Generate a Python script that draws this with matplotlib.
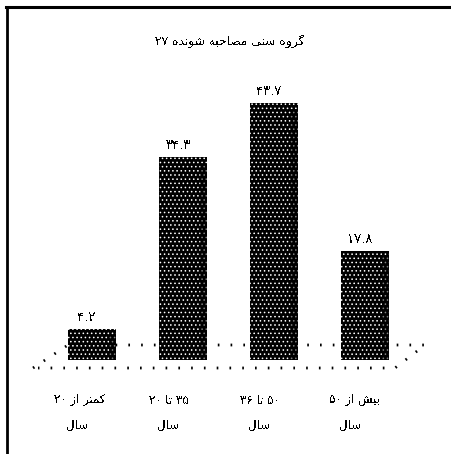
import numpy as np
import matplotlib
matplotlib.use("Agg")
import matplotlib.pyplot as plt
from matplotlib.lines import Line2D

title_text = "گروه سنی مصاحبه شونده ۲۷"
categories = [["کمتر از ۲۰", "سال"], ["۳۵ تا ۲۰", "سال"], ["۵۰ تا ۳۶", "سال"], ["بیش از ۵۰", "سال"]]
values = [4.2, 34.3, 43.7, 17.8]
value_labels = ["۴.۲", "۳۴.۳", "۴۳.۷", "۱۷.۸"]

# isolated, final, initial, medial
forms = {
    "گ": "\uFB92\uFB93\uFB94\uFB95", "ک": "\uFB8E\uFB8F\uFB90\uFB91",
    "ه": "\uFEE9\uFEEA\uFEEB\uFEEC", "س": "\uFEB1\uFEB2\uFEB3\uFEB4",
    "ن": "\uFEE5\uFEE6\uFEE7\uFEE8", "ی": "\uFBFC\uFBFD\uFBFE\uFBFF",
    "م": "\uFEE1\uFEE2\uFEE3\uFEE4", "ص": "\uFEB9\uFEBA\uFEBB\uFEBC",
    "ح": "\uFEA1\uFEA2\uFEA3\uFEA4", "ب": "\uFE8F\uFE90\uFE91\uFE92",
    "ش": "\uFEB5\uFEB6\uFEB7\uFEB8", "ت": "\uFE95\uFE96\uFE97\uFE98",
    "ل": "\uFEDD\uFEDE\uFEDF\uFEE0",
    "ر": "\uFEAD\uFEAE", "و": "\uFEED\uFEEE", "ا": "\uFE8D\uFE8E",
    "د": "\uFEA9\uFEAA", "ز": "\uFEAF\uFEB0",
}


def shape(text):
    # matplotlib does not join arabic letters, so do it by hand
    words = []
    for word in text.split(" "):
        if word[0] not in forms:
            words.append(word)
            continue
        out = ""
        for i, ch in enumerate(word):
            prev_joins = i > 0 and len(forms[word[i - 1]]) == 4
            next_joins = i < len(word) - 1 and len(forms[ch]) == 4
            if prev_joins and next_joins:
                out += forms[ch][3]
            elif prev_joins:
                out += forms[ch][1]
            elif next_joins:
                out += forms[ch][2]
            else:
                out += forms[ch][0]
        words.append(out[::-1])
    return " ".join(words[::-1])


W, H = 451, 454
px_per_unit = 5.72
base_px = 353
first_px = 92
step_px = 91
depth = 7 / px_per_unit

plt.rcParams["font.family"] = "DejaVu Sans"
plt.rcParams["text.antialiased"] = False
plt.rcParams["hatch.linewidth"] = 0.6

fig = plt.figure(figsize=(W / 100, H / 100), dpi=100)
ax = fig.add_axes([0, 0, 1, 1])
ax.set_xlim(-first_px / step_px, (W - first_px) / step_px)
ax.set_ylim(-(H - base_px) / px_per_unit, base_px / px_per_unit)
ax.axis("off")

# frame, only top and left are visible in the picture
fig.add_artist(Line2D([7 / W, 7 / W], [0, 1 - 6.5 / H], color="black", lw=2))
fig.add_artist(Line2D([6 / W, 1], [1 - 6.5 / H, 1 - 6.5 / H], color="black", lw=2.2))

# dotted floor
floor_x = np.array([33, 68, 425, 395, 38]) / W
floor_y = 1 - np.array([368, 345, 345, 368, 368]) / H
fig.add_artist(Line2D(floor_x, floor_y, color="black", lw=2.0, ls=(0, (0.6, 4.0)), zorder=0))

x = np.arange(len(values))
heights = np.array(values) + depth
ax.bar(x, heights, width=48 / step_px, bottom=-depth, color="black", edgecolor="white",
       hatch="....", linewidth=0, zorder=3)
# darker right side of the bars
ax.bar(x + 20.5 / step_px, heights - 6 / px_per_unit, width=7 / step_px, bottom=-depth, color="black",
       alpha=0.5, linewidth=0, zorder=4)

for i, v in enumerate(values):
    ax.text(i - 5 / step_px, v + 5 / px_per_unit, shape(value_labels[i]), ha="center", va="bottom",
            fontsize=9.5)

label_x = [-12, -14, -14, -10]
for i, lines in enumerate(categories):
    ax.text(i + label_x[i] / step_px, -(400 - base_px) / px_per_unit, shape(lines[0]), ha="center",
            va="center", fontsize=8.5)
    ax.text(i - 15 / step_px, -(425 - base_px) / px_per_unit, shape(lines[1]), ha="center",
            va="center", fontsize=8.5)

fig.text(230 / W, 1 - 41 / H, shape(title_text), ha="center", va="center", fontsize=8.8)

fig.savefig("out.png", dpi=100)
